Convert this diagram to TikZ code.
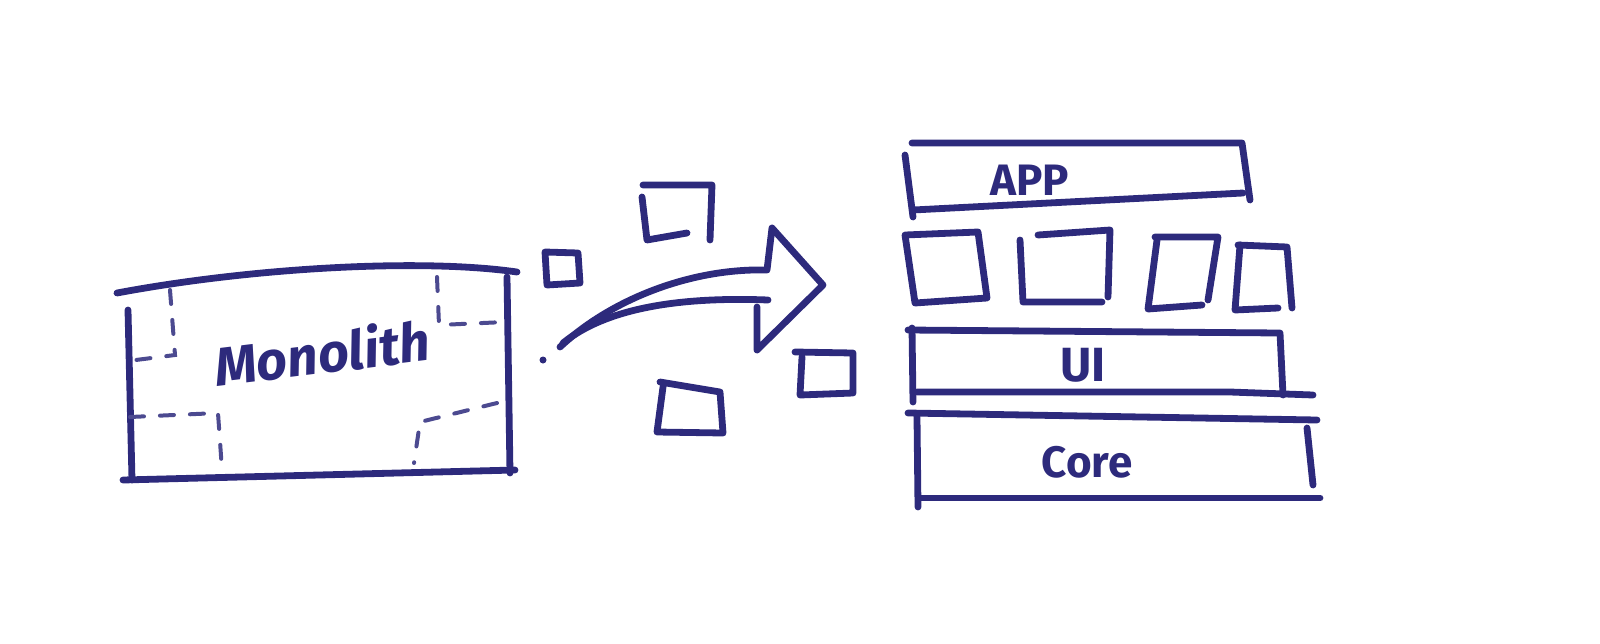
\documentclass[tikz,border=0pt]{standalone}
\usepackage{fontspec}
\setmainfont{Fira Sans}
\definecolor{ink}{HTML}{2D2A7C}
\tikzset{
  pen/.style={draw=ink, line width=3.4pt, line cap=round, line join=round},
  thinpen/.style={draw=ink!85, line width=2pt, line cap=round, dash pattern=on 7pt off 8pt},
  hand/.style={text=ink, inner sep=0pt}
}
\begin{document}
\begin{tikzpicture}[x=0.5pt, y=-0.5pt]
\useasboundingbox (0,0) rectangle (1600,643);
% ---------- Monolith ----------
\draw[pen] (117,293) .. controls (250,268) and (420,258) .. (517,272);
\draw[pen] (507,277) -- (510,473);
\draw[pen] (123,480) -- (515,470);
\draw[pen] (128,310) -- (132,480);
% internal dashed partitions
\draw[thinpen] (170,290) -- (175,355) -- (128,361);
\draw[thinpen] (130,417) -- (218,413) -- (222,470);
\draw[thinpen] (437,277) -- (439,325) -- (505,322);
\draw[thinpen] (497,403) -- (420,422) -- (414,463);
\node[hand, rotate=7, font=\fontsize{27}{31}\selectfont\bfseries\itshape] (mono) at (322,352) {Monolith};
% ---------- arrow ----------
\draw[pen] (560,347) .. controls (610,300) and (690,268) .. (767,270)
  -- (772,228) -- (823,285) -- (757,350) -- (757,307);
\draw[pen] (768,300) .. controls (690,297) and (610,305) .. (563,343);
\fill[ink] (543,360) circle (3.5);
% ---------- loose pieces ----------
\draw[pen] (545,252) -- (578,253) -- (580,283) -- (547,285) -- cycle;
\draw[pen] (643,185) -- (712,185) -- (710,240);
\draw[pen] (642,197) -- (647,240) -- (687,233);
\draw[pen] (660,382) -- (720,392) -- (723,433) -- (657,432) -- (663,387);
\draw[pen] (795,352) -- (853,353) -- (853,393) -- (800,395) -- (802,357);
% ---------- layered stack ----------
% APP
\draw[pen] (912,143) -- (1242,143) -- (1250,200);
\draw[pen] (1243,193) -- (913,210);
\draw[pen] (905,155) -- (913,217);
\node[hand, font=\fontsize{22}{26}\selectfont\bfseries] (app) at (1030,180) {APP};
% module boxes
\draw[pen] (905,235) -- (978,232) -- (987,298) -- (915,303) -- cycle;
\draw[pen] (1020,240) -- (1023,302) -- (1102,302);
\draw[pen] (1038,235) -- (1110,230) -- (1108,297);
\draw[pen] (1155,237) -- (1218,237) -- (1208,300);
\draw[pen] (1157,240) -- (1148,309) -- (1202,305);
\draw[pen] (1238,245) -- (1287,247) -- (1292,308);
\draw[pen] (1240,245) -- (1235,310) -- (1278,308);
% UI
\draw[pen] (908,330) -- (1280,333) -- (1283,395);
\draw[pen] (917,392) -- (1230,392) -- (1313,395);
\draw[pen] (912,328) -- (913,402);
\node[hand, font=\fontsize{24}{28}\selectfont\bfseries] (ui) at (1083,365) {UI};
% Core
\draw[pen] (908,413) -- (1317,420);
\draw[pen] (1307,428) -- (1313,485);
\draw[pen] (920,498) -- (1320,498);
\draw[pen] (917,417) -- (918,507);
\node[hand, font=\fontsize{22}{26}\selectfont\bfseries] (core) at (1087,462) {Core};
\end{tikzpicture}
\end{document}
